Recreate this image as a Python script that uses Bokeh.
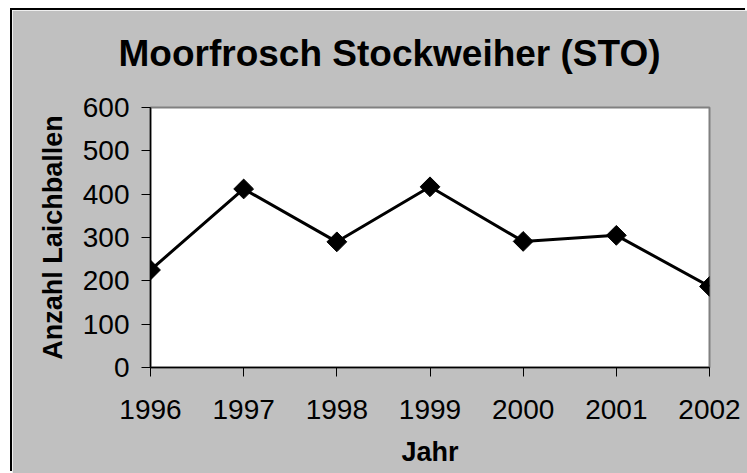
from bokeh.plotting import figure
from bokeh.models import Range1d, FixedTicker, ColumnDataSource, Title
from bokeh.embed import file_html
from bokeh.resources import INLINE
import math

# Data
years = [1996, 1997, 1998, 1999, 2000, 2001, 2002]
laichballen = [225, 412, 290, 417, 291, 305, 187]
y_ticks = [0, 100, 200, 300, 400, 500, 600]

title_text = "Moorfrosch Stockweiher (STO)"
x_label = "Jahr"
y_label = "Anzahl Laichballen"

GREY = "#C0C0C0"
FONT = "Liberation Sans"

src = ColumnDataSource(data=dict(x=years, y=laichballen))

p = figure(width=735, height=463, output_backend="svg", toolbar_location=None,
           x_range=Range1d(years[0], years[-1]), y_range=Range1d(y_ticks[0], y_ticks[-1]),
           min_border_left=138, min_border_right=38, min_border_top=97, min_border_bottom=106)

p.margin = (10, 0, 0, 12)
p.styles = {"box-shadow": "-2px -2px 0px 0px black"}

p.background_fill_color = "white"
p.border_fill_color = GREY
p.outline_line_color = "#808080"
p.outline_line_width = 2

# spacer between title and plot area
p.add_layout(Title(text=" ", text_font_size="10px", standoff=21), "above")

p.title.text = title_text
p.title.text_font = FONT
p.title.text_font_size = "37px"
p.title.text_font_style = "bold"
p.title.text_color = "black"
p.title.align = "left"
p.title.standoff = 0
p.title.offset = -32

p.grid.visible = False

for ax in (p.xaxis, p.yaxis):
    ax.axis_line_color = "black"
    ax.axis_line_width = 1.5
    ax.major_tick_line_color = "black"
    ax.major_tick_line_width = 1
    ax.major_tick_in = 0
    ax.major_tick_out = 9
    ax.minor_tick_line_color = None
    ax.major_label_text_font = FONT
    ax.major_label_text_font_size = "28px"
    ax.major_label_text_color = "black"
    ax.axis_label_text_font = FONT
    ax.axis_label_text_font_size = "27px"
    ax.axis_label_text_font_style = "bold"
    ax.axis_label_text_color = "black"

p.xaxis.ticker = FixedTicker(ticks=years)
p.yaxis.ticker = FixedTicker(ticks=y_ticks)
p.xaxis.axis_label = x_label
p.yaxis.axis_label = y_label
p.xaxis.major_label_standoff = 23
p.yaxis.major_label_standoff = 12
p.xaxis.axis_label_standoff = 15
p.yaxis.axis_label_standoff = 12

p.line("x", "y", source=src, line_color="black", line_width=3)
p.scatter("x", "y", source=src, marker="square", size=14, angle=math.pi / 4,
          fill_color="black", line_color="black")

open("out.html", "w").write(file_html(p, INLINE))
